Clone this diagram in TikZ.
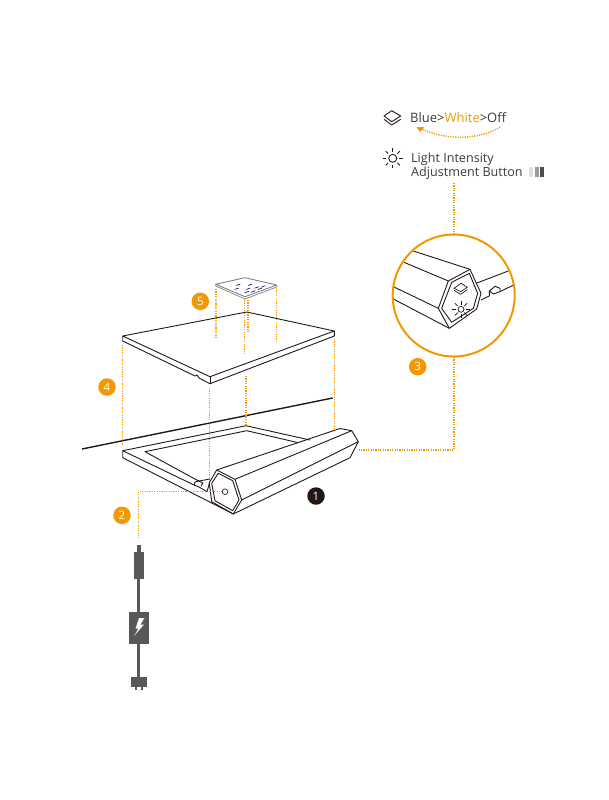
\documentclass[tikz,border=0pt]{standalone}
\usepackage{fontspec}
\setmainfont{Open Sans}
\definecolor{orangeclair}{HTML}{F39800}
\definecolor{trait}{HTML}{231815}
\definecolor{cable}{HTML}{595757}
\definecolor{texte}{HTML}{3E3A39}
\begin{document}
\begin{tikzpicture}[x=1pt, y=-1pt]
	\tikzset{pastille/.style={circle, fill=orangeclair, text=white, text centered, minimum size=17.5pt, inner sep=0pt, font=\fontsize{11.5}{11.5}\selectfont},
	pointilles/.style={orangeclair, line width=1.4pt, dash pattern=on 1.2pt off 1.2pt},
	contour/.style={trait, line width=0.9pt, line join=round},
	legende/.style={anchor=base west, inner sep=0pt, text=texte, font=\fontsize{12.6}{14}\selectfont}};
	\useasboundingbox (0,0) rectangle (608,800);

	% the long black line
	\coordinate (ligne-a) at (82,449);
	\coordinate (ligne-b) at (332.7,398);
	\draw[trait, line width=1.4pt] (ligne-a) -- (ligne-b);

	% dotted leaders, straight down
	\foreach \name/\x/\ya/\yb in {c1/216/289/338, c2/244.7/298/354, c3/248/300/333, c4/276.5/288/343, p1/122.7/345/445, p2/334.3/339/430, p3/209.7/388/478, p4/246/376/425, l1/454/183/234}{
		\coordinate (\name-a) at (\x,\ya);
		\coordinate (\name-b) at (\x,\yb);
		\draw[pointilles] (\name-a) -- (\name-b);
	}

	% panel
	\draw[contour] (122.7,336) -- (246.7,312) -- (334.3,331) -- (210,376.7) -- cycle;
	\draw[contour] (122.7,336) -- (122.7,341) -- (195,376) -- (197,375) -- (199,378) -- (210,383.7) -- (334.3,336) -- (334.3,331);
	\draw[contour] (210,376.7) -- (210,383.7);

	% small card on top
	\draw[gray, line width=0.9pt, line join=round, fill=white] (215.7,284.3) -- (245,277.7) -- (276.7,285) -- (245,296.7) -- cycle;
	\draw[gray, line width=0.7pt, line join=round] (215.7,284.3) -- (215.7,286) -- (245,299) -- (276.7,287) -- (276.7,285);
	\foreach \x/\y in {238.3/285, 236.7/289, 250/285, 248.3/289, 256.7/287.7, 263.3/286.7, 253.3/291.7, 260/289, 246.7/292.3}{
		\draw[blue!50!black, line width=0.6pt] (\x-2,\y+0.5) -- ++(4,-1.5);
	}

	% frame
	\draw[contour] (310,440) -- (246,425.7) -- (122.7,450.7) -- (122.7,457.7) -- (233.3,514);
	\draw[contour] (122.7,450.7) -- (194,485) -- (199,487) -- (207,491.7) -- (209.5,483);
	\draw[contour] (298.3,442.7) -- (246.7,430.7) -- (145,451.7) -- (193,478) -- (199,481) -- (210,479);
	\draw[contour] (194,485) -- (195,482) -- (199,481) -- (203,483) -- (201,486);

	% bar
	\draw[contour] (216.7,470) -- (235,479.3) -- (241.7,500) -- (233.3,514) -- (211.7,501.7) -- (209.3,482.7) -- cycle;
	\draw[contour] (218.3,473.3) -- (232.7,480.7) -- (239,500) -- (232.7,510.7) -- (215,500.7) -- (211.7,483.3) -- cycle;
	\draw[contour] (216.7,470) -- (340,428.5) -- (351.7,430.7) -- (358.3,441.7) -- (350,457.7) -- (233.3,514);
	\draw[contour] (235,479.3) -- (351.7,430.7);
	\draw[contour] (241.7,500) -- (358.3,441.7);

	% dotted leaders with a corner
	\coordinate (fiche) at (225,491.7);
	\coordinate (coude-fiche) at (138.7,491.7);
	\coordinate (bout-fiche) at (138.7,538);
	\coordinate (bas-loupe) at (454,357);
	\coordinate (coude-loupe) at (454,450);
	\coordinate (bout-barre) at (358,450);
	\draw[pointilles] (fiche) -- (coude-fiche) -- (bout-fiche);
	\draw[pointilles] (bas-loupe) -- (coude-loupe) -- (bout-barre);
	\draw[contour, fill=white, line width=0.7pt] (fiche) circle (2.8);

	% cable
	\fill[cable] (136.7,545) rectangle (141.3,552);
	\fill[cable] (133.7,552) rectangle (144,579);
	\fill[cable] (137,579) rectangle (140.4,677);
	\fill[cable] (129.3,611.7) rectangle (148.7,644);
	\fill[white] (139,618) -- (135.5,628.5) -- (138.5,628.5) -- (134,636) -- (144,624.5) -- (140.5,624.5) -- (144.5,618) -- cycle;
	\fill[cable] (130.7,676.7) rectangle (147,686.7);
	\fill[cable] (134.7,686.7) rectangle (136.7,690);
	\fill[cable] (141,686.7) rectangle (143,690);

	% magnifier
	\begin{scope}[shift={(380,225)}, x=0.3333pt, y=-0.3333pt]
		\draw[contour] (100,78) -- (270,133) -- (303,205) -- (290,252) -- (208,310) -- (175,250) -- (205,168) -- (72,112);
		\draw[contour] (205,168) -- (270,133);
		\draw[contour] (175,250) -- (40,185);
		\draw[contour] (208,310) -- (40,222);
		\draw[contour] (215,172) -- (268,145) -- (293,205) -- (280,250) -- (215,292) -- (185,250) -- cycle;
		\draw[contour] (288,175) -- (385,138);
		\draw[contour] (303,225) -- (328,213);
		\draw[contour] (360,200) -- (405,178);
		\draw[contour] (328,213) -- (328,198) -- (345,184) -- (360,190) -- (360,200) -- (340,207) -- (328,198);
		% the two buttons
		\draw[contour, line width=0.7pt] (222,190) -- (243,175) -- (262,187) -- (242,200) -- cycle;
		\draw[contour, line width=0.7pt] (222,196) -- (242,208) -- (262,194);
		\coordinate (lampe) at (243,253);
		\draw[contour, line width=0.7pt] (lampe) circle (9);
		\foreach \angle in {0,45,...,315}{
			\draw[contour, line width=0.7pt] (lampe) ++(\angle:14) -- ++(\angle:12);
		}
	\end{scope}
	\node[circle, draw=orangeclair, line width=2pt, minimum size=122pt, inner sep=0pt] (loupe) at (453.7,295.5) {};

	% numbered badges
	\foreach \name/\x/\y/\num in {b2/122/515.3/2, b3/417.7/366.7/3, b4/107/387/4, b5/200.3/301.3/5}{
		\node[pastille] (\name) at (\x,\y) {\num};
	}
	\node[pastille, fill=trait] (b1) at (316,496) {1};

	% legend
	\node[legende, font=\fontsize{13}{14}\selectfont] (modes) at (410,122) {Blue>\textcolor{orangeclair}{White}>Off};
	\node[legende] (intensite) at (411,162) {Light Intensity};
	\node[legende] (bouton) at (411,176.5) {Adjustment Button};
	\coordinate (fleche-a) at (500,127);
	\coordinate (fleche-b) at (420,128);
	\fill[orangeclair] (416.5,127) -- (424.5,127) -- (420,132) -- cycle;
	\draw[pointilles] (fleche-a) .. controls (480,140) and (445,141) .. (fleche-b);
	\draw[contour, line width=0.9pt] (384,116) -- (391.7,110.7) -- (400.7,116) -- (391.7,121.7) -- cycle;
	\draw[contour, line width=0.9pt] (384,119.3) -- (391.7,125) -- (400.7,119.3);
	\coordinate (soleil) at (392.7,158.3);
	\draw[contour, line width=0.9pt] (soleil) circle (4);
	\foreach \angle in {0,45,...,315}{
		\draw[contour, line width=0.9pt] (soleil) ++(\angle:6.5) -- ++(\angle:3.5);
	}
	\fill[black!12] (529,167) rectangle (533,177);
	\fill[black!40] (534.5,167) rectangle (538.5,177);
	\fill[black!70] (540,167) rectangle (544,177);
\end{tikzpicture}
\end{document}
